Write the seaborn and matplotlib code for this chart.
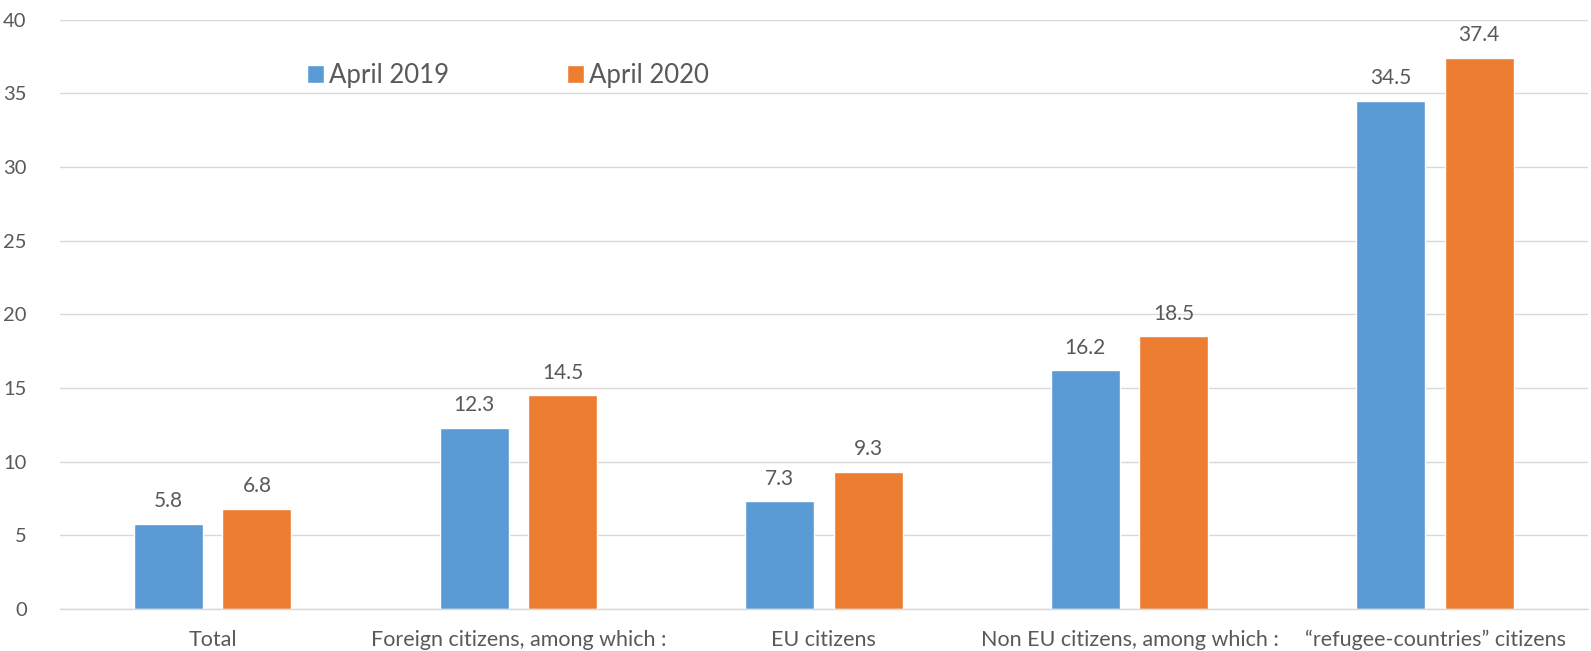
import matplotlib
matplotlib.use("Agg")
import matplotlib.pyplot as plt
import seaborn as sns
import pandas as pd

categories = ["Total", "Foreign citizens, among which :", "EU citizens",
              "Non EU citizens, among which :", "\u201crefugee-countries\u201d citizens"]
april_2019 = [5.8, 12.3, 7.3, 16.2, 34.5]
april_2020 = [6.8, 14.5, 9.3, 18.5, 37.4]
series_names = ["April 2019", "April 2020"]
yticks = [0, 5, 10, 15, 20, 25, 30, 35, 40]

df = pd.DataFrame({
    "category": categories * 2,
    "value": april_2019 + april_2020,
    "series": [series_names[0]] * 5 + [series_names[1]] * 5,
})

sns.set_theme(style="white")
plt.rcParams['font.family'] = ['Lato', 'DejaVu Sans']
text_color = "#595959"

fig = plt.figure(figsize=(15.91, 6.51), dpi=100)
ax = fig.add_axes([0.0377, 0.0645, 0.9603, 0.9055])

sns.barplot(data=df, x="category", y="value", hue="series",
            palette=["#5B9BD5", "#ED7D31"], width=0.578, gap=0.218,
            ax=ax, legend=True, saturation=1)

for cont in ax.containers:
    ax.bar_label(cont, labels=[f"{v:.1f}" for v in cont.datavalues],
                 padding=9, fontsize=15, color=text_color)

ax.set_ylim(0, 40)
ax.set_xlim(-0.5, 4.5)
ax.set_yticks(yticks)
ax.set_yticklabels([str(t) for t in yticks])
ax.yaxis.grid(True, color="#D9D9D9", linewidth=1)
ax.set_axisbelow(True)
for s in ["left", "right", "top"]:
    ax.spines[s].set_visible(False)
ax.spines["bottom"].set_color("#D9D9D9")
ax.spines["bottom"].set_linewidth(1)
ax.tick_params(axis="x", length=0, labelsize=15.5, colors=text_color, pad=15)
ax.tick_params(axis="y", length=0, labelsize=14.5, colors=text_color, pad=24)
ax.set_xlabel("")
ax.set_ylabel("")

handles, labels = ax.get_legend_handles_labels()
ax.legend_.remove()
fig.legend(handles, labels, loc="center", bbox_to_anchor=(0.3194, 0.884),
           ncol=2, frameon=False, fontsize=18.5, handlelength=0.65, handleheight=0.7,
           handletextpad=0.2, columnspacing=4.6, labelcolor=text_color)

fig.savefig("out.png", dpi=100)
